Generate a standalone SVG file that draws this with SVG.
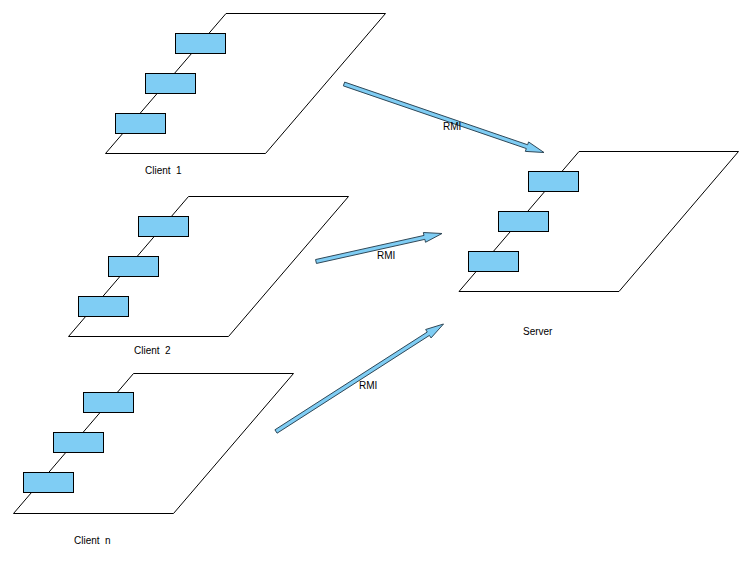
<svg xmlns="http://www.w3.org/2000/svg" width="753" height="562" viewBox="0 0 753 562">
<style>
.plane{fill:#fff;stroke:#000;stroke-width:1}
.box{fill:#7fcdf4;stroke:#000;stroke-width:1}
.arrow{fill:#7fcdf4;stroke:#2f4858;stroke-width:1;stroke-linejoin:miter}
text{font-family:"Liberation Sans",Arial,sans-serif;font-size:10px;fill:#000;white-space:pre}
</style>
<rect width="753" height="562" fill="#fff"/>
<g id="client1">
<polygon class="plane" points="226,13.5 385.5,13.5 265.5,153.5 105.5,153.5"/>
<rect class="box" x="175.5" y="33.5" width="50" height="20"/>
<rect class="box" x="145.5" y="73.5" width="50" height="20"/>
<rect class="box" x="115.5" y="113.5" width="50" height="20"/>
<text x="145" y="174">Client  1</text>
</g>
<g id="client2">
<polygon class="plane" points="188.5,196.5 348.5,196.5 228.5,336.5 68.5,336.5"/>
<rect class="box" x="138.5" y="216.5" width="50" height="20"/>
<rect class="box" x="108.5" y="256.5" width="50" height="20"/>
<rect class="box" x="78.5" y="296.5" width="50" height="20"/>
<text x="134" y="354">Client  2</text>
</g>
<g id="clientn">
<polygon class="plane" points="133.5,373.5 293.5,373.5 173.5,513.5 13.5,513.5"/>
<rect class="box" x="83.5" y="392.5" width="50" height="20"/>
<rect class="box" x="53.5" y="432.5" width="50" height="20"/>
<rect class="box" x="23.5" y="472.5" width="50" height="20"/>
<text x="74" y="544">Client  n</text>
</g>
<g id="server">
<polygon class="plane" points="579,151.5 738.5,151.5 619,291.5 459,291.5"/>
<rect class="box" x="528.5" y="171.5" width="50" height="20"/>
<rect class="box" x="498.5" y="211.5" width="50" height="20"/>
<rect class="box" x="468.5" y="251.5" width="50" height="20"/>
<text x="523" y="335">Server</text>
</g>
<g id="connectors">
<polygon class="arrow" points="344.65,82.11 527.62,144.78 528.59,141.94 544,152.5 525.35,151.4 526.32,148.56 343.35,85.89"/>
<text x="443" y="130">RMI</text>
<polygon class="arrow" points="315.57,259.55 424.00,235.45 423.35,232.52 442,233.5 425.51,242.28 424.86,239.35 316.43,263.45"/>
<text x="377" y="259">RMI</text>
<polygon class="arrow" points="274.92,429.82 427.27,332.04 425.65,329.51 443.5,324 431.05,337.93 429.43,335.40 277.08,433.18"/>
<text x="359" y="389">RMI</text>
</g>
</svg>
